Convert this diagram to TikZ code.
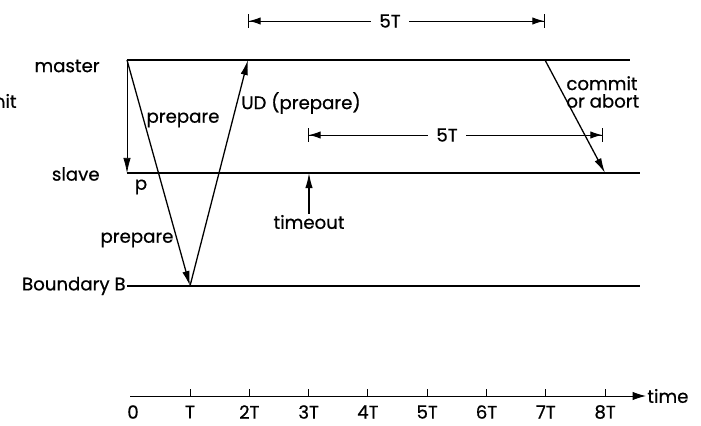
\documentclass[tikz,border=0pt]{standalone}
\usepackage{fontspec}
\setmainfont{Poppins}[FakeBold=0.6]
\usetikzlibrary{arrows.meta,positioning}

\begin{document}
\begin{tikzpicture}[x=0.03cm, y=-0.03cm,
    lbl/.style={font=\fontsize{15.5}{17}\selectfont, inner sep=1pt},
    track/.style={line width=1.7pt},
    arrow/.style={-{Latex[length=4.5mm,width=2.2mm]}, line width=1.1pt},
    span/.style={{Bar[width=4mm]Latex[length=3.5mm,width=2.2mm]}-{Latex[length=3.5mm,width=2.2mm]Bar[width=4mm]}, line width=0.8pt}]

\useasboundingbox (0,0) rectangle (701,426);
\clip (0,0) rectangle (701,426);

% processes
\node[lbl, anchor=east] (unit) at (18,101) {unit};
\node[lbl, anchor=east] (master) at (101,66) {master};
\node[lbl, anchor=east] (slave) at (101,174) {slave};
\node[lbl, anchor=east] (bound) at (127,286) {Boundary B};

\coordinate (m0) at (127,60);
\coordinate (mUD) at (248,60);
\coordinate (mC) at (545,60);
\coordinate (mE) at (630,60);
\coordinate (s0) at (127,173);
\coordinate (sTO) at (309,173);
\coordinate (sC) at (605,173);
\coordinate (sE) at (640,173);
\coordinate (bP) at (190,286);
\coordinate (bE) at (640,286);

\draw[track] (m0) -- (mE);
\draw[track] (s0) -- (sE);
\draw[track] (bound.east) -- (bE);

% messages
\draw[arrow, line width=0.6pt] (m0) -- (s0);
\draw[arrow] (m0) -- (bP);
\draw[arrow] (bP) -- (mUD);
\draw[arrow] (mC) -- (sC);

\node[lbl] (p) at (141,187) {p};
\node[lbl] (prepA) at (183,120) {prepare};
\node[lbl] (prepB) at (137,240) {prepare};
\node[lbl] (ud) at (301,103) {UD (prepare)};
\node[lbl, anchor=west, align=left, font=\fontsize{15.5}{15}\selectfont] (commit) at (565,92) {commit\\or abort};
\node[lbl] (timeout) at (309,222) {timeout};
\draw[arrow] (timeout) -- (sTO);

% time spans
\coordinate (aL) at (248,21);
\coordinate (aR) at (545,21);
\draw[span] (aL) -- (aR);
\node[lbl, fill=white, inner xsep=7pt] (spanA) at (390,21) {5T};

\coordinate (bL) at (308,135);
\coordinate (bR) at (603,135);
\draw[span] (bL) -- (bR);
\node[lbl, fill=white, inner xsep=7pt] (spanB) at (447,135) {5T};

% time axis
\coordinate (t0) at (130,396);
\coordinate (tE) at (646,396);
\draw[-{Latex[length=4mm,width=2.5mm]}, line width=0.8pt] (t0) -- (tE);
\node[lbl, anchor=west] (time) at (tE) {time};
\node[lbl] (tk0) at (133,412) {0};
\foreach \i/\t in {1/T,2/2T,3/3T,4/4T,5/5T,6/6T,7/7T,8/8T} {
  \draw[line width=0.8pt] (130.7+59.3*\i,396) -- ++(0,-7);
  \node[lbl] (tk\i) at (130.7+59.3*\i,412) {\t};
}

\end{tikzpicture}
\end{document}
